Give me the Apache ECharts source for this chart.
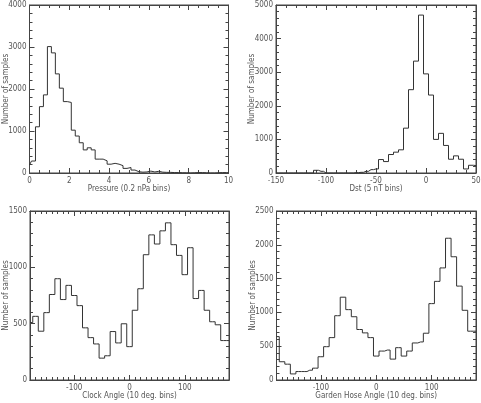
<!DOCTYPE html>
<html>
<head>
<meta charset="utf-8">
<script src="https://cdn.jsdelivr.net/npm/echarts@6/dist/echarts.min.js"></script>
<style>
  html, body { margin: 0; padding: 0; background: #fff; }
  #chart { width: 481px; height: 403px; }
</style>
</head>
<body>
<div id="chart"></div>
<script>
// bin centres: first centre + step (one value per bin)
var pressureStart = 0, pressureStep = 0.2;
var pressureCounts = [190, 285, 1100, 1580, 1860, 3010, 2860, 2360, 2020, 1700,
  1680, 1020, 880, 720, 550, 600, 550, 330, 330, 290,
  210, 230, 210, 175, 110, 130, 70, 30, 20, 25,
  45, 25, 40, 20, 15, 15, 10, 10, 5, 5,
  0, 5, 10, 10, 5, 0, 0, 5, 10, 10, 5];

var dstStart = -150, dstStep = 5;
var dstCounts = [0, 0, 0, 0, 0, 0, 0, 0, 80, 50,
  0, 0, 0, 0, 0, 0, 10, 20, 50, 100,
  120, 400, 340, 550, 620, 690, 1335, 2480, 3330, 4700,
  2950, 2320, 1000, 1180, 820, 410, 510, 410, 120, 230, 220];

var clockStart = -180, clockStep = 10;
var clockCounts = [510, 565, 433, 598, 759, 899, 714, 840, 750, 660,
  463, 376, 320, 194, 215, 430, 329, 499, 296, 619,
  810, 1112, 1288, 1207, 1324, 1395, 1201, 1106, 935, 1174,
  723, 795, 619, 517, 490, 350];

var hoseStart = -180, hoseStep = 10;
var hoseCounts = [642, 270, 234, 90, 125, 125, 145, 175, 344, 493,
  627, 951, 1225, 1041, 936, 747, 697, 627, 354, 428,
  443, 309, 478, 354, 428, 548, 563, 692, 1130, 1459,
  1658, 2097, 1823, 1389, 1031, 722];

var angleLabels = [-100, 0, 100];

var fontFamily = "'Liberation Sans Narrow', 'DejaVu Sans Condensed', 'Liberation Sans', sans-serif";
var frameColor = '#444';
var textColor = '#555';
var lineColor = '#333';

var grids = [], xAxes = [], yAxes = [], series = [];

function plain(v) { return String(v); }

function stepData(start, step, counts, min, max) {
  var d = [[min, counts[0]]];
  for (var i = 0; i < counts.length; i++) {
    d.push([+(start + i * step).toFixed(3), counts[i]]);
  }
  d.push([max, counts[counts.length - 1]]);
  return d;
}

function addPanel(rect, xc, yc, xTitle, data) {
  var gi = grids.length;
  grids.push({left: rect[0], top: rect[1], width: rect[2], height: rect[3],
    containLabel: false, outerBoundsMode: 'none',
    show: true, borderColor: frameColor, borderWidth: 1, backgroundColor: 'transparent'});

  var edge = {show: true, onZero: false, lineStyle: {color: frameColor, width: 1}};
  var labelStyle = {color: textColor, fontSize: 8, fontFamily: fontFamily};
  var major = {show: true, inside: true, length: 5, lineStyle: {color: frameColor, width: 1}};
  var minor = {show: true, inside: true, length: 3, lineStyle: {color: frameColor, width: 1}};

  // x axes (bottom + mirrored top)
  var mainX;
  ['bottom', 'top'].forEach(function (pos) {
    var ax = {
      type: 'value', gridIndex: gi, position: pos, min: xc.min, max: xc.max,
      axisLine: edge, splitLine: {show: false},
      axisLabel: Object.assign({show: pos === 'bottom', margin: 4, formatter: plain}, labelStyle)
    };
    if (xc.custom) {
      ax.interval = xc.minor;
      ax.axisTick = minor;
      if (pos === 'bottom') ax.axisLabel.customValues = xc.custom;
    } else {
      ax.interval = xc.major;
      ax.axisTick = major;
      ax.minorTick = {show: true, splitNumber: xc.split, length: 3, lineStyle: {color: frameColor, width: 1}};
    }
    if (pos === 'bottom') {
      ax.name = xTitle;
      ax.nameLocation = 'middle';
      ax.nameGap = 12;
      ax.nameMoveOverlap = false;
      ax.nameTextStyle = {color: textColor, fontSize: 8, fontFamily: fontFamily};
      mainX = xAxes.length;
    }
    xAxes.push(ax);
    if (xc.custom) {
      // longer major ticks at the labelled values
      xAxes.push({
        type: 'value', gridIndex: gi, position: pos, min: xc.min, max: xc.max, interval: xc.minor,
        axisLine: edge, splitLine: {show: false}, axisLabel: {show: false},
        axisTick: Object.assign({customValues: xc.custom}, major)
      });
    }
  });

  // y axes (left + mirrored right)
  var mainY;
  ['left', 'right'].forEach(function (pos) {
    var ay = {
      type: 'value', gridIndex: gi, position: pos, min: yc.min, max: yc.max, interval: yc.major,
      axisLine: edge, splitLine: {show: false},
      axisTick: major,
      minorTick: {show: true, splitNumber: 5, length: 3, lineStyle: {color: frameColor, width: 1}},
      axisLabel: Object.assign({show: pos === 'left', margin: 3, formatter: plain}, labelStyle)
    };
    if (pos === 'left') {
      ay.name = 'Number of samples';
      ay.nameLocation = 'middle';
      ay.nameGap = yc.nameGap;
      ay.nameMoveOverlap = false;
      ay.nameTextStyle = {color: textColor, fontSize: 8, fontFamily: fontFamily};
      mainY = yAxes.length;
    }
    yAxes.push(ay);
  });

  series.push({
    type: 'line', step: 'middle', xAxisIndex: mainX, yAxisIndex: mainY,
    showSymbol: false, symbol: 'none', silent: true,
    lineStyle: {color: lineColor, width: 1},
    data: data
  });
}

addPanel([29.5, 5, 199, 168],
  {min: 0, max: 10, major: 2, split: 4},
  {min: 0, max: 4000, major: 1000, nameGap: 20},
  'Pressure (0.2 nPa bins)',
  stepData(pressureStart, pressureStep, pressureCounts, 0, 10));

addPanel([276, 5, 200, 168],
  {min: -150, max: 50, major: 50, split: 5},
  {min: 0, max: 5000, major: 1000, nameGap: 20},
  'Dst (5 nT bins)',
  stepData(dstStart, dstStep, dstCounts, -150, 50));

addPanel([30, 211, 199, 169],
  {min: -180, max: 180, minor: 10, custom: angleLabels},
  {min: 0, max: 1500, major: 500, nameGap: 20},
  'Clock Angle (10 deg. bins)',
  stepData(clockStart, clockStep, clockCounts, -180, 180));

addPanel([276.5, 211, 199.5, 169],
  {min: -180, max: 180, minor: 10, custom: angleLabels},
  {min: 0, max: 2500, major: 500, nameGap: 20},
  'Garden Hose Angle (10 deg. bins)',
  stepData(hoseStart, hoseStep, hoseCounts, -180, 180));

var myChart = echarts.init(document.getElementById('chart'), null, {renderer: 'canvas'});
myChart.setOption({
  animation: false,
  backgroundColor: '#fff',
  grid: grids,
  xAxis: xAxes,
  yAxis: yAxes,
  series: series
});
</script>
</body>
</html>
